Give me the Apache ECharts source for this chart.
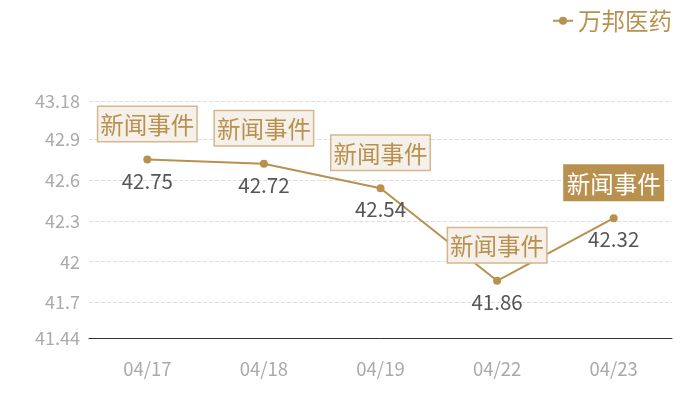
<!DOCTYPE html>
<html><head><meta charset="utf-8">
<script src="https://cdn.jsdelivr.net/npm/echarts@6/dist/echarts.min.js"></script>
<style>html,body{margin:0;padding:0;background:#fff}#c{width:700px;height:400px}</style>
</head><body><div id="c"></div>
<script>
var categories = ['04/17','04/18','04/19','04/22','04/23'];
var values = [42.75, 42.72, 42.54, 41.86, 42.32];
var seriesName = '万邦医药';
var eventText = '新闻事件';
var highlighted = [false, false, false, false, true];
var gold = '#b8914f';
var font = '"Noto Sans CJK SC", "Noto Sans", sans-serif';
var chart = echarts.init(document.getElementById('c'));
var mp = values.map(function(v, i){
  var hi = highlighted[i];
  return {
    coord: [i, v],
    label: {
      show: true, position: 'top', distance: 18,
      formatter: eventText,
      fontSize: 23.5, fontFamily: font,
      color: hi ? '#fff' : gold,
      backgroundColor: hi ? '#b8914f' : '#f5f0ea',
      borderColor: hi ? '#b8914f' : '#d4b78c',
      borderWidth: 1.5,
      padding: [2, 2, 0, 2],
      lineHeight: 32
    }
  };
});
chart.setOption({
  animation: false,
  legend: {
    right: 23, top: 4, itemWidth: 20, itemHeight: 10, itemGap: 7,
    textStyle: {color: gold, fontSize: 23.5, fontFamily: font},
    data: [seriesName]
  },
  grid: {left: 89, right: 28, top: 101, bottom: 62},
  xAxis: {
    type: 'category', data: categories,
    axisLine: {lineStyle: {color: '#333'}},
    axisTick: {show: false},
    axisLabel: {color: '#aaa', fontSize: 18.5, fontFamily: font, margin: 22}
  },
  yAxis: {
    type: 'value', min: 41.44, max: 43.18,
    axisLine: {show: false}, axisTick: {show: false},
    axisLabel: {color: '#aaa', fontSize: 18, fontFamily: font, margin: 9},
    splitLine: {lineStyle: {color: '#ddd', type: 'dashed'}}
  },
  series: [{
    name: seriesName, type: 'line', data: values,
    symbol: 'circle', symbolSize: 8,
    itemStyle: {color: gold},
    lineStyle: {color: gold, width: 2},
    label: {show: true, position: 'bottom', distance: 7, color: '#555', fontSize: 20.5, fontFamily: font},
    markPoint: {symbol: 'circle', symbolSize: 1, itemStyle: {color: 'rgba(0,0,0,0)'}, data: mp}
  }]
});
</script></body></html>
